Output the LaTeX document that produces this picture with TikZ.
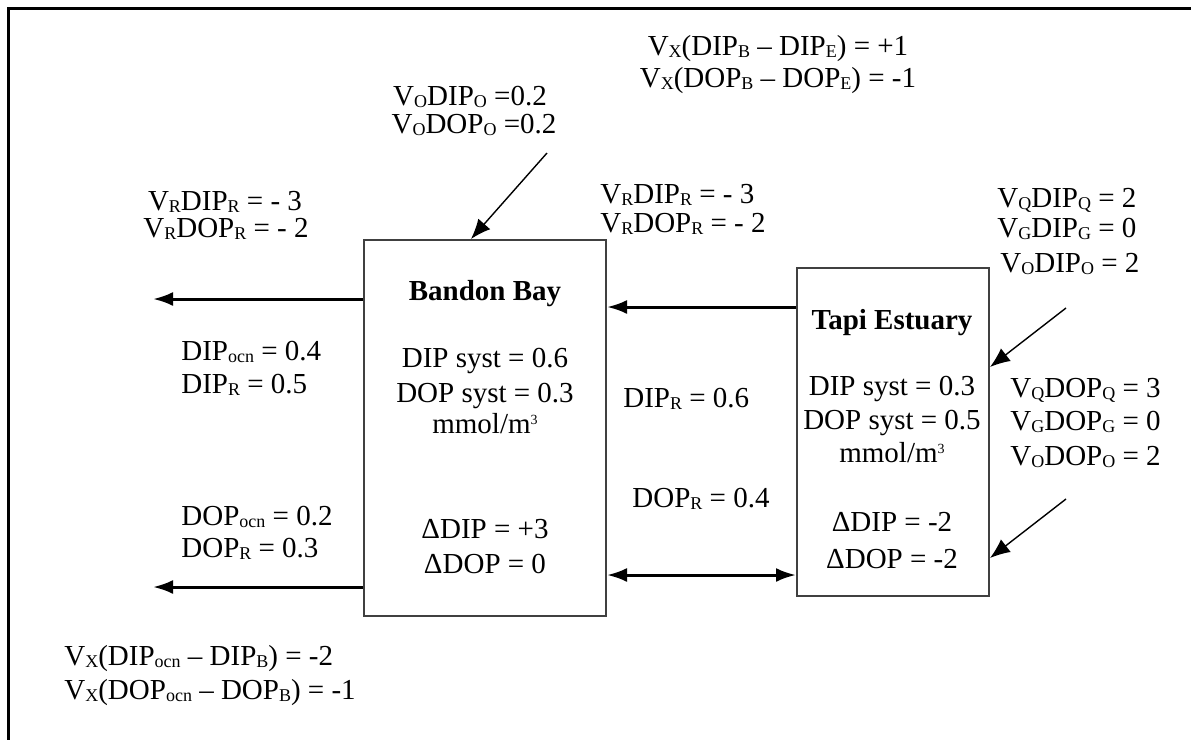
\documentclass[tikz,border=0pt]{standalone}
\usepackage{fontspec}
\setmainfont{Liberation Serif}
\usetikzlibrary{arrows.meta}
% small lowered subscript letters and a raised cube exponent
\newcommand\sub[1]{\raisebox{-0.1em}{\fontsize{9}{9}\selectfont #1}}
\newcommand\cube{\raisebox{0.3em}{\fontsize{7}{7}\selectfont 3}}

\begin{document}
\begin{tikzpicture}[x=0.5pt,y=-0.5pt,
  lbl/.style={font=\fontsize{14.5}{17}\selectfont, inner sep=0pt},
  ttl/.style={inner sep=0pt, font=\fontsize{14.5}{17}\selectfont\bfseries},
  basin/.style={draw=black!75, line width=1pt, inner sep=0pt},
  flow/.style={line width=1.5pt, -{Latex[length=10pt,width=7pt]}},
  both/.style={line width=1.5pt, {Latex[length=10pt,width=7pt]}-{Latex[length=10pt,width=7pt]}},
  feed/.style={line width=0.7pt, -{Latex[length=10pt,width=8pt]}},
  frame/.style={line width=1.5pt}]

\useasboundingbox (0,0) rectangle (1191,740);
\fill[white] (0,0) rectangle (1191,740);

% outer frame (top and left edges)
\coordinate (fc) at (8,8);
\draw[frame] (1191,8) -- (fc) -- (8,740);

% the two basins
\node[basin, minimum width=121pt, minimum height=188pt] (bandon) at (485,428) {};
\node[basin, minimum width=96pt, minimum height=164pt] (tapi) at (893,432) {};

% residual flows
\coordinate (outA) at (153,299);
\coordinate (outB) at (153,587);
\draw[flow] (bandon.west |- outA) -- (outA);
\draw[flow] (bandon.west |- outB) -- (outB);
\coordinate (midA) at (700,307);
\draw[flow] (tapi.west |- midA) -- (bandon.east |- midA);
\coordinate (midB) at (700,575);
\draw[both] (bandon.east |- midB) -- (tapi.west |- midB);

% other inputs
\coordinate (srcO) at (547,153);
\coordinate (hitO) at (471,0);
\draw[feed] (srcO) -- (bandon.north -| hitO);
\coordinate (srcQ) at (1066,308);
\coordinate (hitQ) at (0,367);
\draw[feed] (srcQ) -- (tapi.east |- hitQ);
\coordinate (srcD) at (1066,499);
\coordinate (hitD) at (0,558);
\draw[feed] (srcD) -- (tapi.east |- hitD);

% exchange between the basins
\node[lbl, anchor=base] (xbe1) at (778,55) {V\sub{X}(DIP\sub{B} – DIP\sub{E}) = +1};
\node[lbl, anchor=base] (xbe2) at (778,87) {V\sub{X}(DOP\sub{B} – DOP\sub{E}) = -1};

% other inputs to the bay
\node[lbl, anchor=base] (ob1) at (470,105) {V\sub{O}DIP\sub{O} =0.2};
\node[lbl, anchor=base] (ob2) at (474,133) {V\sub{O}DOP\sub{O} =0.2};

% residual out of the bay
\node[lbl, anchor=base] (rb1) at (225,210) {V\sub{R}DIP\sub{R} = - 3};
\node[lbl, anchor=base] (rb2) at (226,237) {V\sub{R}DOP\sub{R} = - 2};

% residual out of the estuary
\node[lbl, anchor=base west] (re1) at (600,203) {V\sub{R}DIP\sub{R} = - 3};
\node[lbl, anchor=base west] (re2) at (600,232) {V\sub{R}DOP\sub{R} = - 2};

% estuary inputs, DIP
\node[lbl, anchor=base west] (qi1) at (997,207) {V\sub{Q}DIP\sub{Q} = 2};
\node[lbl, anchor=base west] (qi2) at (997,237) {V\sub{G}DIP\sub{G} = 0};
\node[lbl, anchor=base west] (qi3) at (1000,272) {V\sub{O}DIP\sub{O} = 2};

% estuary inputs, DOP
\node[lbl, anchor=base west] (qo1) at (1010,397) {V\sub{Q}DOP\sub{Q} = 3};
\node[lbl, anchor=base west] (qo2) at (1010,430) {V\sub{G}DOP\sub{G} = 0};
\node[lbl, anchor=base west] (qo3) at (1010,465) {V\sub{O}DOP\sub{O} = 2};

% Bandon Bay contents
\node[ttl, anchor=base] (bt) at (485,300) {Bandon Bay};
\node[lbl, anchor=base] (b1) at (485,367) {DIP syst = 0.6};
\node[lbl, anchor=base] (b2) at (485,402) {DOP syst = 0.3};
\node[lbl, anchor=base] (b3) at (485,433) {mmol/m\cube};
\node[lbl, anchor=base] (b4) at (485,538) {ΔDIP = +3};
\node[lbl, anchor=base] (b5) at (485,573) {ΔDOP = 0};

% Tapi Estuary contents
\node[ttl, anchor=base] (tt) at (892,329) {Tapi Estuary};
\node[lbl, anchor=base] (e1) at (892,395) {DIP syst = 0.3};
\node[lbl, anchor=base] (e2) at (892,429) {DOP syst = 0.5};
\node[lbl, anchor=base] (e3) at (892,462) {mmol/m\cube};
\node[lbl, anchor=base] (e4) at (892,531) {ΔDIP = -2};
\node[lbl, anchor=base] (e5) at (892,568) {ΔDOP = -2};

% ocean side concentrations
\node[lbl, anchor=base west] (c1) at (181,360) {DIP\sub{ocn} = 0.4};
\node[lbl, anchor=base west] (c2) at (181,393) {DIP\sub{R} = 0.5};
\node[lbl, anchor=base west] (c3) at (181,525) {DOP\sub{ocn} = 0.2};
\node[lbl, anchor=base west] (c4) at (181,557) {DOP\sub{R} = 0.3};
\node[lbl, anchor=base west] (x1) at (64,665) {V\sub{X}(DIP\sub{ocn} – DIP\sub{B}) = -2};
\node[lbl, anchor=base west] (x2) at (64,699) {V\sub{X}(DOP\sub{ocn} – DOP\sub{B}) = -1};

% between the basins
\node[lbl, anchor=base west] (m1) at (623,407) {DIP\sub{R} = 0.6};
\node[lbl, anchor=base west] (m2) at (632,507) {DOP\sub{R} = 0.4};

\end{tikzpicture}
\end{document}
